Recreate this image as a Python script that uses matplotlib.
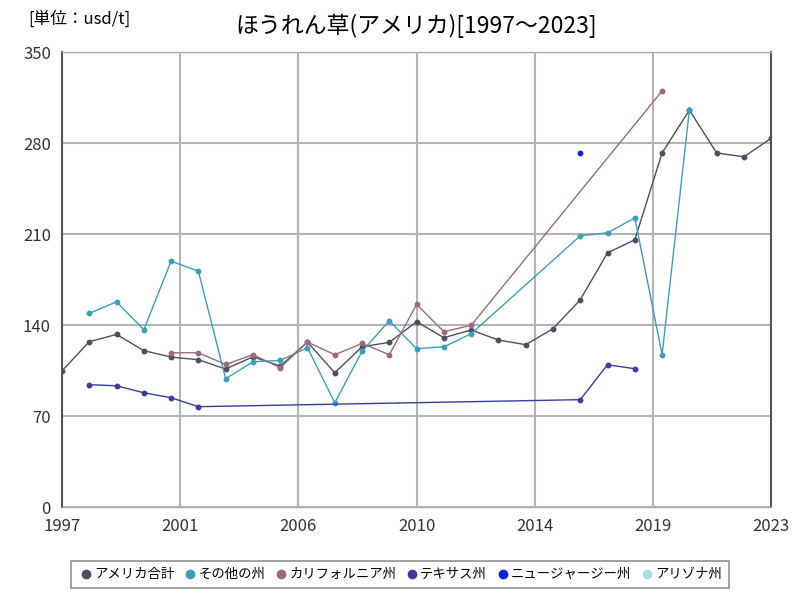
import matplotlib.pyplot as plt
import numpy as np

plt.rcParams['font.family'] = ['Noto Sans CJK JP', 'DejaVu Sans']

years = list(range(1997, 2024))

total = [104.8, 127.2, 132.8, 120.3, 115.4, 113.3, 106.2, 115.6, 108.5, 126.9,
         103.3, 123.3, 126.7, 142.6, 130.3, 136.2, 128.5, 124.9, 137.2, 159.5,
         195.6, 205.6, 272.5, 305.4, 272.5, 269.5, 283.8]
other = [None, 149.0, 157.9, 136.4, 189.2, 181.5, 98.7, 111.8, 112.8, 122.6,
         80.2, 119.8, 143.3, 121.8, 123.3, 133.3, None, None, None, 208.7,
         211.0, 222.5, 117.2, 305.4, None, None, None]
california = [None, None, None, None, 118.7, 118.7, 109.7, 117.2, 107.2, 126.9,
              117.2, 125.9, 117.2, 155.9, 134.9, 139.8, None, None, None, None,
              None, None, 320.2, None, None, None, None]
texas = [None, 94.1, 93.3, 87.9, 84.1, 77.2, None, None, None, None,
         None, None, None, None, None, None, None, None, None, 82.6,
         109.5, 106.4, None, None, None, None, None]
newjersey = [None] * 19 + [272.5] + [None] * 7
arizona = [None] * 27

series = [
    ("アメリカ合計", total, "#4d4d63"),
    ("その他の州", other, "#3a9fbd"),
    ("カリフォルニア州", california, "#9a6c7a"),
    ("テキサス州", texas, "#3a3d9c"),
    ("ニュージャージー州", newjersey, "#0a22d8"),
    ("アリゾナ州", arizona, "#a8dde6"),
]

fig = plt.figure(figsize=(8, 6), dpi=100)
ax = fig.add_axes([0.0775, 0.155, 0.8865, 0.758])

handles = []
for name, vals, col in series:
    xs = [y for y, v in zip(years, vals) if v is not None]
    ys = [v for v in vals if v is not None]
    ax.plot(xs, ys, color=col, lw=1, marker="o", ms=3.2, zorder=3)
    h, = ax.plot([], [], ls="none", marker="o", ms=6, color=col, label=name)
    handles.append(h)

ax.set_xlim(1997, 2023)
ax.set_ylim(0, 350)
xt = np.linspace(1997, 2023, 7)
ax.set_xticks(xt)
ax.set_xticklabels([str(int(round(v))) for v in xt])
ax.set_yticks([0, 70, 140, 210, 280, 350])
ax.tick_params(length=0, labelsize=12, colors="#333333", pad=8)
ax.grid(True, color="#b4b4b4", lw=1.5)
ax.set_axisbelow(True)
for s in ax.spines.values():
    s.set_color("#aaaaaa")
    s.set_linewidth(1)
ax.spines["left"].set_color("#555555")
ax.spines["left"].set_linewidth(1.5)
ax.spines["right"].set_color("#555555")
ax.spines["right"].set_linewidth(1.5)

fig.text(0.52, 0.957, "ほうれん草(アメリカ)[1997～2023]", ha="center", va="center", fontsize=16.5)
fig.text(0.035, 0.968, "[単位：usd/t]", ha="left", va="center", fontsize=12)

leg = fig.legend(handles=handles, loc="center", bbox_to_anchor=(0.5, 0.043), ncol=6,
                 frameon=True, fancybox=False, edgecolor="#777777", fontsize=9.6,
                 handletextpad=0.0, columnspacing=0.6, handlelength=1.2, borderpad=0.5)
leg.get_frame().set_linewidth(1.2)

fig.savefig("out.png", dpi=100)
